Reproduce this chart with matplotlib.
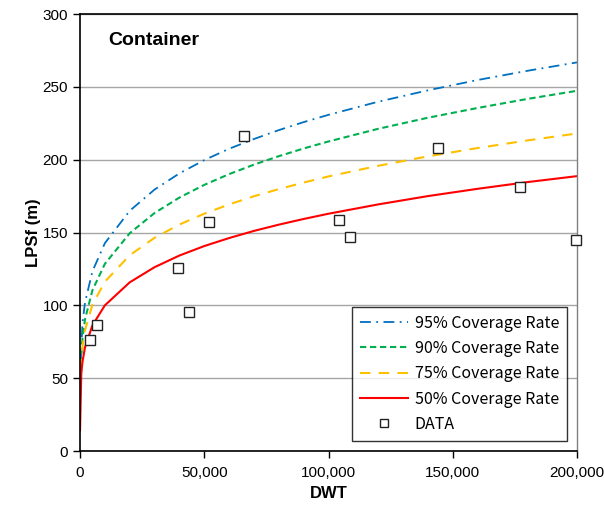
import matplotlib
matplotlib.use("Agg")
import matplotlib.pyplot as plt
from matplotlib.ticker import FuncFormatter

plt.rcParams['font.family'] = ['Liberation Sans', 'DejaVu Sans']

# coverage-rate curves (DWT vs LPSf)
dwt_red = [1, 500, 1000, 2000, 5000, 10000, 20000, 30000, 40000, 50000, 60000, 70000,
           80000, 90000, 100000, 120000, 140000, 160000, 180000, 200000]
lpsf_50 = [14.2, 53.0, 61.4, 71.1, 86.3, 100.0, 115.8, 126.2, 134.2, 140.7, 146.2, 151.1,
           155.4, 159.3, 162.9, 169.3, 175.0, 180.0, 184.6, 188.7]

dwt_cov = [300, 1000, 2000, 5000, 10000, 20000, 30000, 40000, 50000, 60000, 70000,
           80000, 90000, 100000, 120000, 140000, 160000, 180000, 200000]
lpsf_95 = [62.0, 88.2, 101.9, 123.4, 142.7, 164.9, 179.5, 190.6, 199.7, 207.5, 214.2,
           220.3, 225.8, 230.8, 239.8, 247.6, 254.7, 261.0, 266.8]
lpsf_90 = [59.7, 77.7, 90.4, 110.4, 128.5, 149.5, 163.4, 174.0, 182.7, 190.1, 196.6,
           202.4, 207.7, 212.5, 221.2, 228.8, 235.5, 241.7, 247.3]
lpsf_75 = [56.0, 71.7, 82.9, 100.5, 116.2, 134.4, 146.4, 155.5, 162.9, 169.3, 174.9,
           179.8, 184.3, 188.5, 195.8, 202.3, 208.0, 213.2, 218.0]

# observed ships
data_dwt = [4000, 7000, 39400, 43900, 51900, 66000, 104200, 108700, 144100, 177100, 199600]
data_lpsf = [76.2, 86.5, 125.6, 95.4, 157.2, 216.2, 158.5, 146.9, 208.0, 181.2, 144.8]

fig = plt.figure(figsize=(6.04, 5.08), dpi=100)
ax = fig.add_axes([0.1325, 0.1122, 0.8228, 0.8602])

ax.plot(dwt_cov, lpsf_95, color='#0070C0', lw=1.3, dashes=(6, 3, 1, 3), label='95% Coverage Rate')
ax.plot(dwt_cov, lpsf_90, color='#00B050', lw=1.5, dashes=(3, 1.8), label='90% Coverage Rate')
ax.plot(dwt_cov, lpsf_75, color='#FFC000', lw=1.5, dashes=(5, 4), label='75% Coverage Rate')
ax.plot(dwt_red, lpsf_50, color='#FF0000', lw=1.5, label='50% Coverage Rate')
ax.plot(data_dwt, data_lpsf, ls='none', marker='s', ms=7, mfc='white', mec='#222222',
        mew=1.0, label='DATA', clip_on=False, zorder=5)

ax.set_xlim(0, 200000)
ax.set_ylim(0, 300)
ax.set_xticks(range(0, 200001, 50000))
ax.set_yticks(range(0, 301, 50))
ax.xaxis.set_major_formatter(FuncFormatter(lambda v, p: f'{int(v):,}'))
ax.tick_params(labelsize=11, length=5, width=1, direction='out')
ax.tick_params(axis='x', pad=6)
ax.grid(axis='y', color='#a6a6a6', lw=1)
ax.set_axisbelow(True)

for s in ['left', 'bottom', 'top']:
    ax.spines[s].set_color('black')
    ax.spines[s].set_linewidth(1.2)
ax.spines['right'].set_color('#808080')
ax.spines['right'].set_linewidth(1)

ax.set_xlabel('DWT', fontsize=12, fontweight='bold', labelpad=4)
ax.set_ylabel('LPSf (m)', fontsize=12, fontweight='bold', labelpad=1)
ax.text(0.056, 0.94, 'Container', transform=ax.transAxes, fontsize=14,
        fontweight='bold', va='center', ha='left')

leg = ax.legend(loc='lower right', bbox_to_anchor=(0.98, 0.023), borderaxespad=0,
                prop={'family': ['Noto Sans CJK JP', 'DejaVu Sans'], 'size': 11.5},
                frameon=True, fancybox=False, handlelength=3.0, handletextpad=0.4,
                labelspacing=0.52, borderpad=0.5, markerscale=0.8)
leg.get_frame().set_edgecolor('black')
leg.get_frame().set_linewidth(1)

fig.savefig('out.png', dpi=100)
